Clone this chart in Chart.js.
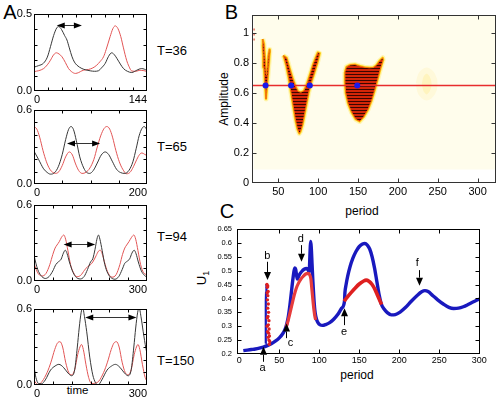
<!DOCTYPE html>
<html>
<head>
<meta charset="utf-8">
<script src="https://cdn.jsdelivr.net/npm/chart.js@4.4.1/dist/chart.umd.min.js"></script>
<style>
html,body{margin:0;padding:0;background:#fff;}
body{position:relative;width:500px;height:402px;overflow:hidden;font-family:"Liberation Sans",Arial,Helvetica,sans-serif;color:#000;}
canvas{position:absolute;}
.lbl{position:absolute;white-space:nowrap;line-height:1;}
.c{transform:translate(-50%,-50%);}
.l{transform:translate(0,-50%);}
.v{transform:translate(-50%,-50%) rotate(-90deg);}
</style>
</head>
<body>
<div class="lbl c" style="left:10px;top:11.6px;font-size:20px">A</div>
<div class="lbl c" style="left:231.5px;top:11.5px;font-size:20px">B</div>
<div class="lbl c" style="left:227px;top:210.5px;font-size:20px">C</div>
<div class="lbl l" style="left:157px;top:50px;font-size:13px">T=36</div>
<div class="lbl l" style="left:157px;top:146px;font-size:13px">T=65</div>
<div class="lbl l" style="left:157px;top:236px;font-size:13px">T=94</div>
<div class="lbl l" style="left:157px;top:360px;font-size:13px">T=150</div>
<div class="lbl c" style="left:77.5px;top:391px;font-size:11.5px">time</div>
<div class="lbl v" style="left:224px;top:99px;font-size:12px">Amplitude</div>
<div class="lbl c" style="left:362px;top:210.5px;font-size:12px">period</div>
<div class="lbl c" style="left:357px;top:375px;font-size:12px">period</div>
<div class="lbl v" style="left:203px;top:278px;font-size:13px">U<sub style="font-size:9px">1</sub></div>
<script>
// ---------------- Panel A data ([time, value]) ----------------
const a1Black = [[0,0.155],[6,0.165],[12,0.18],[17,0.22],[21,0.288],[25,0.36],[29,0.41],[31.5,0.418],[35,0.4],[39,0.36],[42,0.331],[45,0.28],[48.5,0.222],[51.5,0.188],[54.6,0.168],[61,0.146],[66,0.137],[71.7,0.131],[77,0.128],[82,0.131],[86,0.15],[90.7,0.179],[95,0.225],[99,0.248],[102,0.238],[105.6,0.212],[110,0.175],[114,0.146],[119,0.128],[124.5,0.12],[131,0.135],[137,0.146],[144,0.135]];
const a1Red = [[0,0.126],[6,0.132],[12.4,0.146],[17,0.17],[21,0.2],[25,0.235],[28.5,0.248],[32,0.24],[35.7,0.222],[40,0.185],[44,0.146],[48,0.125],[52.7,0.114],[57,0.12],[61,0.131],[65,0.137],[69.5,0.14],[75,0.15],[80,0.168],[84,0.19],[88.6,0.222],[92,0.27],[97,0.353],[100.5,0.405],[103.5,0.423],[107,0.405],[110.6,0.353],[114,0.28],[118,0.2],[121,0.16],[124.5,0.13],[130,0.128],[135,0.135],[140,0.132],[144,0.127]];
const a2Black = [[0,0.266],[8,0.2],[17,0.123],[23,0.095],[29,0.08],[36,0.09],[43,0.14],[50,0.24],[56,0.36],[61,0.44],[65.5,0.466],[70,0.44],[75,0.35],[81,0.22],[88,0.13],[93,0.095],[98.5,0.086],[105,0.11],[112,0.17],[119,0.235],[126,0.26],[132,0.24],[139,0.18],[146,0.12],[153,0.093],[161,0.086],[168,0.11],[175,0.18],[181,0.29],[186,0.39],[191,0.45],[195,0.466],[200,0.44]];
const a2Red = [[0,0.466],[5,0.445],[10,0.38],[16,0.27],[22,0.18],[28,0.12],[33,0.095],[38,0.086],[44,0.1],[50,0.15],[56,0.22],[62.5,0.26],[68,0.235],[73,0.17],[79,0.11],[85,0.086],[92,0.095],[99,0.13],[106,0.2],[112,0.3],[118,0.39],[124,0.45],[129,0.466],[134,0.445],[139,0.38],[145,0.27],[151,0.18],[157,0.12],[164,0.083],[170,0.095],[176,0.14],[182,0.2],[187,0.24],[191,0.252],[196,0.24],[200,0.23]];
const a3Black = [[0,0.205],[5,0.14],[10,0.09],[18,0.045],[30,0.02],[40,0.035],[50,0.08],[58,0.13],[65,0.152],[72,0.172],[78,0.22],[83,0.243],[88,0.215],[94,0.15],[102,0.08],[110,0.035],[123,0.016],[133,0.035],[142,0.09],[150,0.15],[156,0.175],[162,0.25],[167,0.33],[171,0.363],[175,0.33],[181,0.24],[188,0.13],[196,0.06],[205,0.025],[215,0.014],[225,0.035],[234,0.09],[241,0.14],[247,0.155],[254,0.175],[260,0.22],[266,0.243],[271,0.215],[277,0.15],[285,0.08],[293,0.045],[300,0.03]];
const a3Red = [[0,0.14],[6,0.09],[12,0.055],[22,0.04],[32,0.06],[42,0.13],[50,0.21],[56,0.26],[61,0.284],[67,0.31],[73,0.345],[79,0.363],[84,0.33],[90,0.24],[97,0.13],[105,0.065],[114,0.034],[124,0.045],[134,0.085],[143,0.115],[149,0.126],[156,0.15],[165,0.2],[171,0.235],[176,0.243],[181,0.215],[187,0.15],[195,0.075],[207,0.03],[218,0.05],[228,0.13],[235,0.21],[241,0.26],[246,0.284],[252,0.31],[259,0.345],[265,0.363],[270,0.33],[276,0.24],[283,0.13],[291,0.065],[300,0.05]];
const a4Black = [[0,0.145],[5,0.06],[12,0.012],[20,0.01],[30,0.04],[44,0.118],[56,0.15],[66,0.163],[78,0.14],[90,0.095],[100,0.073],[108,0.12],[115,0.3],[120,0.45],[125,0.57],[129,0.61],[134,0.54],[140,0.42],[148,0.22],[156,0.08],[163,0.02],[170,0.0],[180,0.04],[194,0.118],[206,0.15],[216,0.163],[228,0.14],[240,0.095],[250,0.073],[258,0.12],[265,0.3],[270,0.45],[275,0.57],[279,0.61],[284,0.54],[290,0.42],[297,0.29],[300,0.25]];
const a4Red = [[0,0.04],[5,0.015],[12,0.005],[22,0.03],[35,0.1],[45,0.18],[55,0.28],[62,0.33],[69,0.342],[76,0.3],[84,0.18],[92,0.1],[100,0.08],[108,0.12],[116,0.24],[122,0.3],[126,0.32],[131,0.28],[138,0.16],[145,0.06],[153,0.01],[162,0.015],[172,0.03],[185,0.1],[195,0.18],[205,0.28],[212,0.33],[219,0.342],[226,0.3],[234,0.18],[242,0.1],[250,0.08],[258,0.12],[266,0.24],[272,0.3],[276,0.32],[281,0.28],[288,0.16],[295,0.06],[300,0.03]];
const aXMax = [144, 200, 300, 300];
const aYMax = [0.5, 0.6, 0.6, 0.6];
const aXLabels = [['0','144'],['0','200'],['0','300'],['0','300']];
const aYLabels = [['0.0','0.5'],['0.0','0.6'],['0.0','0.6'],['0.0','0.6']];
const aMinorX = [[18,36,54,72,90,108,126],[50,100,150],[50,100,150,200,250],[50,100,150,200,250]];
const aMinorY = [[0.1,0.2,0.3,0.4],[0.1,0.2,0.3,0.4,0.5],[0.1,0.2,0.3,0.4,0.5],[0.1,0.2,0.3,0.4,0.5]];
const aArrowFrom = [29, 58.4, 78.6, 136];
const aArrowTo = [61, 117, 162.5, 272];
const aArrowY = [0.43, 0.33, 0.29, 0.534];

// ---------------- Panel B data ([period, amplitude]) ----------------
const bBlob1 = [[30.5,0.96],[32,0.93],[33,0.86],[34,0.78],[35,0.72],[36.3,0.78],[37.5,0.85],[38.8,0.89],[39.3,0.87],[38,0.78],[36.5,0.68],[35.3,0.6],[34.6,0.56],[34,0.6],[33,0.68],[32,0.77],[31,0.85],[30.2,0.92]];
const bBlob2 = [[56.3,0.85],[60.5,0.835],[64.5,0.76],[68.5,0.69],[72,0.64],[75,0.61],[78.4,0.605],[82,0.615],[85.5,0.655],[89.5,0.72],[93.5,0.79],[97.5,0.845],[99.5,0.87],[102,0.865],[99,0.8],[95,0.73],[91,0.665],[88,0.6],[85.5,0.53],[83,0.46],[80.5,0.39],[78,0.345],[76.3,0.33],[74,0.36],[71.5,0.42],[69,0.5],[66,0.6],[63,0.7],[60,0.78],[57.5,0.83]];
const bBlob3 = [[133.5,0.74],[135.5,0.775],[140,0.787],[146,0.79],[152,0.78],[158,0.772],[164,0.768],[169,0.77],[173,0.785],[177,0.815],[181,0.835],[181.5,0.82],[178,0.76],[175,0.7],[171,0.62],[167,0.55],[162.5,0.49],[157,0.44],[152,0.41],[147,0.425],[142,0.47],[137.5,0.53],[134.5,0.6],[133.5,0.67]];
const bBlob4 = [[226,0.66],[229,0.72],[236,0.75],[243,0.72],[246,0.66],[243,0.6],[236,0.57],[229,0.6]];
const bLine = [[17,0.65],[323,0.65]];
const bDots = [[34,0.65],[66,0.65],[89.5,0.65],[149,0.65]];
const bEdgeMark = [[19.6,0.95],[19.6,1.03]];
const bXTicks = [50,100,150,200,250,300];
const bXLabels = ['50','100','150','200','250','300'];
const bYTicks = [0,0.2,0.4,0.6,0.8,1.0];
const bYLabels = ['0','0.2','0.4','0.6','0.8','1'];

// ---------------- Panel C data ([period, U1]) ----------------
const cBlueMain = [[5,0.212],[10,0.214],[15,0.216],[20,0.218],[25,0.221],[30,0.225],[35,0.23],[40,0.237],[45,0.246],[50,0.258],[54,0.272],[57,0.288],[59,0.305],[61,0.33],[63,0.37],[65,0.42],[67,0.47],[68.5,0.5],[69.5,0.51],[70.5,0.505],[71.5,0.485],[72.5,0.47],[75,0.485],[78,0.497],[81,0.505],[84,0.508],[86,0.503],[87,0.495],[87.5,0.5],[88.2,0.55],[88.8,0.59],[89.3,0.605],[90,0.58],[91,0.52],[92,0.46],[93,0.41],[94,0.37],[95,0.345],[96.5,0.325],[98.5,0.312],[101,0.305],[104,0.303],[108,0.306],[113,0.313],[118,0.325],[123,0.342],[128,0.365],[131.5,0.39],[132,0.42],[133.5,0.45],[135.5,0.48],[138.5,0.515],[142,0.545],[146,0.57],[150,0.587],[154,0.596],[157,0.598],[160,0.592],[163,0.578],[166,0.55],[169,0.51],[172,0.46],[175,0.41],[177.5,0.38],[181,0.362],[185,0.349],[190,0.341],[195,0.342],[201,0.351],[208,0.368],[215,0.39],[222,0.41],[228,0.424],[232,0.428],[236,0.425],[242,0.41],[248,0.395],[255,0.38],[262,0.368],[268,0.364],[274,0.365],[280,0.37],[286,0.378],[292,0.387],[300,0.398]];
const cBlueB = [[32.8,0.238],[32.9,0.27],[33,0.3],[33.1,0.33],[33.2,0.36],[33.3,0.39],[33.4,0.42],[33.6,0.445],[34.2,0.452]];
const cRedB = [[34.5,0.45],[35,0.44],[35.5,0.445],[34.8,0.42],[35.6,0.41],[36,0.425],[35.2,0.395],[36.2,0.38],[35.5,0.365],[36.5,0.35],[35.8,0.335],[37,0.32],[36.3,0.305],[37.2,0.29],[36.6,0.275],[37.6,0.265],[37,0.25],[38,0.245],[37.5,0.235],[35,0.33],[34.8,0.3],[35.4,0.28],[36,0.26]];
const cRedCD = [[58.5,0.295],[61,0.32],[63.5,0.35],[66,0.38],[68.5,0.41],[71,0.435],[74,0.455],[77,0.47],[80,0.48],[83,0.488],[86,0.49],[88,0.485],[89.5,0.47],[90.5,0.44],[91.5,0.41],[92.5,0.38],[93.5,0.355],[94.5,0.335],[95.5,0.323]];
const cRedE = [[131,0.39],[135,0.405],[140,0.422],[145,0.438],[150,0.452],[155,0.462],[158.5,0.466],[162,0.462],[166,0.45],[170,0.43],[173,0.41],[176,0.39],[178,0.378]];
const cXTicks = [0,50,100,150,200,250,300];
const cXLabels = ['0','50','100','150','200','250','300'];
const cYTicks = [0.2,0.25,0.3,0.35,0.4,0.45,0.5,0.55,0.6,0.65];
const cYLabels = ['0.2','0.25','0.3','0.35','0.4','0.45','0.5','0.55','0.6','0.65'];
const cArrowX = [29.2, 35, 58.4, 77, 131, 224.6];
const cArrowFrom = [0.172, 0.532, 0.257, 0.592, 0.304, 0.502];
const cArrowTo = [0.226, 0.466, 0.31, 0.532, 0.365, 0.446];
const cArrowNames = ['a','b','c','d','e','f'];
const cNameX = [29.2, 35, 64, 77, 131, 222.5];
const cNameY = [0.15, 0.553, 0.24, 0.613, 0.28, 0.527];

// ---------------- helpers ----------------
const FONT = '"Liberation Sans", Arial, Helvetica, sans-serif';
Chart.defaults.font.family = FONT;
Chart.defaults.color = '#000';

function pts(a){ return a.map(p => ({x: p[0], y: p[1]})); }
function closed(a){ return pts(a.concat([a[0]])); }

function makeCanvas(area, wy, hx, padT, padR){
  const c = document.createElement('canvas');
  const w = Math.round(area.r - area.l + wy + padR);
  const h = Math.round(area.b - area.t + padT + hx);
  c.width = w; c.height = h;
  c.style.width = w + 'px'; c.style.height = h + 'px';
  c.style.left = (area.l - wy) + 'px';
  c.style.top = (area.t - padT) + 'px';
  document.body.appendChild(c);
  return c;
}

function axis(o){
  return {
    type: 'linear', min: o.min, max: o.max, bounds: 'data',
    afterBuildTicks: s => { s.ticks = o.ticks.map(v => ({value: v})); },
    afterFit: s => { if (o.w !== undefined) s.width = o.w; if (o.h !== undefined) s.height = o.h; },
    grid: {display: false, drawTicks: false},
    border: {display: false},
    ticks: {autoSkip: false, maxRotation: 0, minRotation: 0, padding: o.pad, font: {size: o.size}, color: '#000',
      align: o.align || 'center', callback: (v, i) => o.labels[i]}
  };
}

function framePlugin(xt, yt, len, color){
  return {
    id: 'frame',
    afterDatasetsDraw(chart){
      const {ctx, chartArea: a, scales} = chart;
      const sx = scales.x, sy = scales.y;
      const l = Math.round(a.left) + 0.5, r = Math.round(a.right) - 0.5;
      const t = Math.round(a.top) + 0.5, b = Math.round(a.bottom) - 0.5;
      ctx.save();
      ctx.strokeStyle = color; ctx.lineWidth = 1;
      ctx.strokeRect(l, t, r - l, b - t);
      ctx.beginPath();
      xt.forEach(v => { const p = Math.round(sx.getPixelForValue(v)) + 0.5;
        ctx.moveTo(p, b); ctx.lineTo(p, b - len); ctx.moveTo(p, t); ctx.lineTo(p, t + len); });
      yt.forEach(v => { const p = Math.round(sy.getPixelForValue(v)) + 0.5;
        ctx.moveTo(l, p); ctx.lineTo(l + len, p); ctx.moveTo(r, p); ctx.lineTo(r - len, p); });
      ctx.stroke();
      ctx.restore();
    }
  };
}

function hArrowPlugin(x1, x2, yv){
  return {
    id: 'harrow',
    afterDatasetsDraw(chart){
      const {ctx, scales: {x, y}} = chart;
      const p1 = x.getPixelForValue(x1), p2 = x.getPixelForValue(x2);
      const py = Math.round(y.getPixelForValue(yv)) + 0.5;
      const hl = 8, hw = 3;
      ctx.save();
      ctx.strokeStyle = '#333'; ctx.lineWidth = 1;
      ctx.beginPath(); ctx.moveTo(p1 + hl - 1, py); ctx.lineTo(p2 - hl + 1, py); ctx.stroke();
      ctx.fillStyle = '#000';
      ctx.beginPath(); ctx.moveTo(p1, py); ctx.lineTo(p1 + hl, py - hw); ctx.lineTo(p1 + hl, py + hw); ctx.closePath(); ctx.fill();
      ctx.beginPath(); ctx.moveTo(p2, py); ctx.lineTo(p2 - hl, py - hw); ctx.lineTo(p2 - hl, py + hw); ctx.closePath(); ctx.fill();
      ctx.restore();
    }
  };
}

function vArrowPlugin(){
  return {
    id: 'varrow',
    afterDatasetsDraw(chart){
      const {ctx, scales: {x, y}} = chart;
      ctx.save();
      ctx.strokeStyle = '#000'; ctx.fillStyle = '#000'; ctx.lineWidth = 1;
      ctx.font = '11px ' + FONT; ctx.textAlign = 'center'; ctx.textBaseline = 'middle';
      cArrowX.forEach((xv, i) => {
        const px = Math.round(x.getPixelForValue(xv)) + 0.5;
        const p1 = y.getPixelForValue(cArrowFrom[i]), p2 = y.getPixelForValue(cArrowTo[i]);
        const dir = Math.sign(p2 - p1), hl = 8, hw = 3.5;
        ctx.beginPath(); ctx.moveTo(px, p1); ctx.lineTo(px, p2 - dir * hl); ctx.stroke();
        ctx.beginPath(); ctx.moveTo(px, p2); ctx.lineTo(px - hw, p2 - dir * hl); ctx.lineTo(px + hw, p2 - dir * hl); ctx.closePath(); ctx.fill();
        ctx.fillText(cArrowNames[i], x.getPixelForValue(cNameX[i]), y.getPixelForValue(cNameY[i]));
      });
      ctx.restore();
    }
  };
}

const baseOpts = (padT, padR) => ({
  responsive: false, animation: false, events: [],
  layout: {padding: {top: padT, right: padR, left: 0, bottom: 0}},
  plugins: {legend: {display: false}, tooltip: {enabled: false}}
});

// ---------------- Panel A ----------------
const aAreas = [{l:34,t:14,r:147,b:91},{l:34,t:110,r:147,b:184},{l:34,t:205,r:147,b:281},{l:34,t:309,r:147,b:385}];
const aBlacks = [a1Black, a2Black, a3Black, a4Black];
const aReds = [a1Red, a2Red, a3Red, a4Red];
aAreas.forEach((area, k) => {
  const wy = 34, hx = 16, padT = 10, padR = 3;
  const cv = makeCanvas(area, wy, hx, padT, padR);
  const o = baseOpts(padT, padR);
  o.scales = {
    x: axis({min: 0, max: aXMax[k], ticks: [0, aXMax[k]], labels: aXLabels[k], size: 11, pad: 2, align: 'inner', h: hx}),
    y: axis({min: 0, max: aYMax[k], ticks: [0, aYMax[k]], labels: aYLabels[k], size: 11, pad: 2, w: wy})
  };
  new Chart(cv, {
    type: 'scatter',
    data: {datasets: [
      {data: pts(aBlacks[k]), showLine: true, borderColor: 'rgb(55,55,55)', borderWidth: 1, pointRadius: 0, cubicInterpolationMode: 'monotone', order: 0},
      {data: pts(aReds[k]), showLine: true, borderColor: 'rgb(226,85,85)', borderWidth: 1, pointRadius: 0, cubicInterpolationMode: 'monotone', order: 1}
    ]},
    options: o,
    plugins: [framePlugin(aMinorX[k], aMinorY[k], 3, '#000'), hArrowPlugin(aArrowFrom[k], aArrowTo[k], aArrowY[k])]
  });
});

// ---------------- Panel B ----------------
(function(){
  const area = {l:252, t:15, r:497, b:183};
  const wy = 42, hx = 16, padT = 12, padR = 3;
  const cv = makeCanvas(area, wy, hx, padT, padR);
  const pc = document.createElement('canvas'); pc.width = 4; pc.height = 3;
  const pctx = pc.getContext('2d');
  pctx.fillStyle = 'rgb(212,38,8)'; pctx.fillRect(0, 0, 4, 3);
  pctx.fillStyle = 'rgb(60,6,0)'; pctx.fillRect(0, 2, 4, 1);
  const stripe = cv.getContext('2d').createPattern(pc, 'repeat');
  const ds = [];
  ds.push({data: pts(bDots), pointRadius: 3, pointBackgroundColor: 'rgb(25,25,235)', pointBorderWidth: 0, showLine: false, order: 0});
  ds.push({data: pts(bLine), showLine: true, borderColor: 'rgb(232,45,45)', borderWidth: 1.4, pointRadius: 0, order: 1});
  ds.push({data: pts(bEdgeMark), showLine: true, borderColor: 'rgb(210,40,20)', borderWidth: 1, borderDash: [2, 3], pointRadius: 0, order: 1});
  [bBlob1, bBlob2, bBlob3].forEach(bl => {
    ds.push({data: closed(bl), showLine: true, fill: 'shape', backgroundColor: 'rgb(255,245,180)', borderColor: 'rgb(255,245,180)', borderWidth: 5, borderJoinStyle: 'round', pointRadius: 0, tension: 0, order: 5});
    ds.push({data: closed(bl), showLine: true, fill: 'shape', backgroundColor: 'rgb(255,215,30)', borderColor: 'rgb(255,215,30)', borderWidth: 2.5, borderJoinStyle: 'round', pointRadius: 0, tension: 0, order: 4});
    ds.push({data: closed(bl), showLine: true, fill: 'shape', backgroundColor: stripe, borderColor: 'rgb(245,120,10)', borderWidth: 1, borderJoinStyle: 'round', pointRadius: 0, tension: 0, order: 3});
  });
  ds.push({data: closed(bBlob4), showLine: true, fill: 'shape', backgroundColor: 'rgb(255,244,190)', borderColor: 'rgb(255,249,218)', borderWidth: 6, borderJoinStyle: 'round', pointRadius: 0, tension: 0.3, order: 6});
  const o = baseOpts(padT, padR);
  o.scales = {
    x: axis({min: 17, max: 323, ticks: bXTicks, labels: bXLabels, size: 11, pad: 2, h: hx}),
    y: axis({min: 0, max: 1.12, ticks: bYTicks, labels: bYLabels, size: 11, pad: 3, w: wy})
  };
  const bg = {
    id: 'bbg',
    beforeDatasetsDraw(chart){
      const {ctx, chartArea: a, scales: {x, y}} = chart;
      ctx.save();
      const x0 = x.getPixelForValue(19), y0 = y.getPixelForValue(0.09);
      ctx.fillStyle = 'rgb(255,253,236)';
      ctx.fillRect(x0, a.top, a.right - x0, y0 - a.top);
      ctx.restore();
    }
  };
  new Chart(cv, {type: 'scatter', data: {datasets: ds}, options: o,
    plugins: [bg, framePlugin(bXTicks, [0.2,0.4,0.6,0.8,1.0], 4, '#333')]});
})();

// ---------------- Panel C ----------------
(function(){
  const area = {l:237, t:229, r:480, b:354};
  const wy = 35, hx = 24, padT = 12, padR = 14;
  const cv = makeCanvas(area, wy, hx, padT, padR);
  const blue = 'rgb(25,25,190)', red = 'rgb(222,32,32)';
  const ds = [
    {data: pts(cRedB), showLine: false, pointRadius: 1.7, pointBackgroundColor: red, pointBorderWidth: 0, order: 0},
    {data: pts(cRedCD), showLine: true, borderColor: 'rgb(230,60,60)', borderWidth: 3.2, pointRadius: 0, cubicInterpolationMode: 'monotone', order: 0},
    {data: pts(cRedE), showLine: true, borderColor: red, borderWidth: 3.6, pointRadius: 0, cubicInterpolationMode: 'monotone', order: 0},
    {data: pts(cBlueB), showLine: true, borderColor: blue, borderWidth: 2.2, pointRadius: 0, order: 1},
    {data: pts(cBlueMain), showLine: true, borderColor: blue, borderWidth: 3.4, pointRadius: 0, cubicInterpolationMode: 'monotone', order: 2}
  ];
  const o = baseOpts(padT, padR);
  o.scales = {
    x: axis({min: -2.9, max: 300.9, ticks: cXTicks, labels: cXLabels, size: 9, pad: 1, h: hx}),
    y: axis({min: 0.2, max: 0.65, ticks: cYTicks, labels: cYLabels, size: 7.5, pad: 5, w: wy})
  };
  new Chart(cv, {type: 'scatter', data: {datasets: ds}, options: o,
    plugins: [framePlugin([50,100,150,200,250], [0.25,0.3,0.35,0.4,0.45,0.5,0.55,0.6], 4, '#000'), vArrowPlugin()]});
})();
</script>
</body>
</html>
